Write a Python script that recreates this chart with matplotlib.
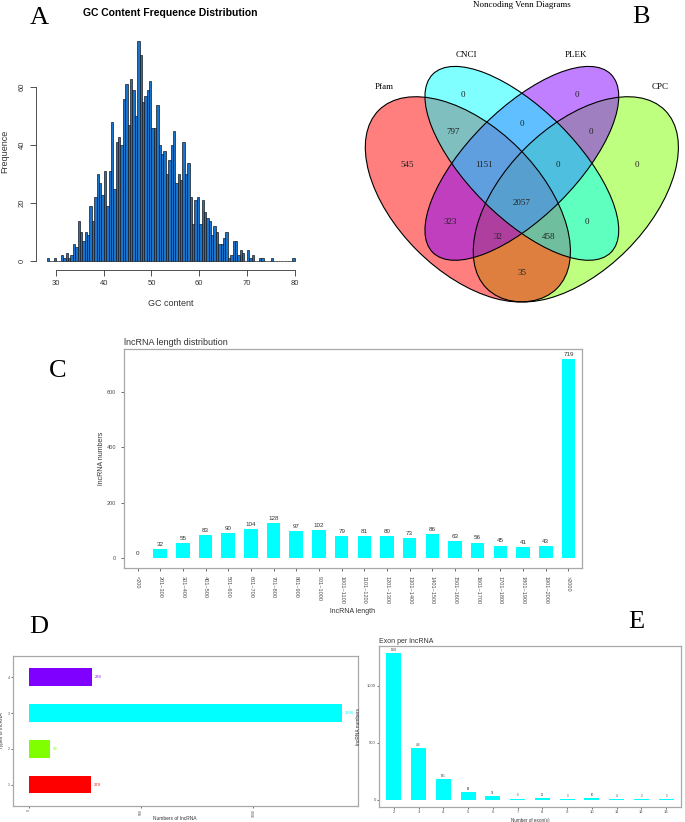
import numpy as np
import matplotlib
matplotlib.use("Agg")
import matplotlib.pyplot as plt
from matplotlib.patches import Ellipse

plt.rcParams['font.family'] = ['Liberation Sans', 'DejaVu Sans']

# ---------------- data ----------------
# A: GC content histogram, bins of 0.5 starting at 28
gc_start, gc_step = 28.0, 0.5
gc_counts = [1, 0, 0, 1, 0, 0, 2, 1, 3, 1,
             2, 6, 5, 14, 10, 7, 10, 9, 19, 14,
             22, 30, 27, 23, 31, 19, 31, 48, 25, 41,
             43, 40, 56, 61, 47, 63, 59, 50, 76, 71,
             55, 57, 59, 62, 46, 46, 54, 40, 37, 38,
             30, 35, 40, 45, 27, 30, 28, 41, 30, 34,
             22, 13, 21, 22, 13, 21, 17, 15, 14, 9,
             12, 10, 6, 6, 8, 10, 1, 2, 7, 7,
             2, 4, 3, 0, 4, 1, 2, 0, 0, 1,
             1, 0, 0, 0, 1, 0, 0, 0, 0, 0,
             0, 0, 0, 1]

# B: Venn diagram
venn_sets = ['Pfam', 'CNCI', 'PLEK', 'CPC']
venn_regions = ['Pfam', 'CNCI', 'PLEK', 'CPC',
                'Pfam&CNCI', 'CNCI&PLEK', 'PLEK&CPC', 'Pfam&PLEK', 'CNCI&CPC', 'Pfam&CPC',
                'Pfam&CNCI&PLEK', 'CNCI&PLEK&CPC', 'Pfam&CNCI&CPC', 'Pfam&PLEK&CPC',
                'all']
venn_counts = [545, 0, 0, 0,
               797, 0, 0, 323, 0, 35,
               1151, 0, 458, 32,
               2057]

# C: length distribution
len_labels = ['<200', '201~300', '301~400', '401~500', '501~600', '601~700', '701~800',
              '801~900', '901~1000', '1001~1100', '1101~1200', '1201~1300', '1301~1400',
              '1401~1500', '1501~1600', '1601~1700', '1701~1800', '1801~1900',
              '1901~2000', '>2000']
len_counts = [0, 32, 55, 83, 90, 104, 128, 97, 102, 79, 81, 80, 73, 86, 63, 56, 45, 41, 43, 719]

# D: types of lncRNA
type_labels = ['1', '2', '3', '4']
type_counts = [279, 96, 1396, 283]

# E: exon per lncRNA
exon_labels = ['2', '3', '4', '5', '6', '7', '8', '9', '10', '11', '12', '13']
exon_counts = [1285, 456, 181, 69, 31, 9, 11, 3, 10, 4, 3, 3]

# ---------------- styles / layout ----------------
rainbow4 = ['#FF0000', '#80FF00', '#00FFFF', '#8000FF']
venn_colors = ['#FF0000', '#00FFFF', '#8000FF', '#80FF00']
venn_z = [2, 4, 3, 1]   # fill order: CPC, Pfam, PLEK, CNCI
# standard 4-set venn ellipse layout (cx, cy, a, b, angle)
venn_shapes = [(0.35, 0.47, 0.35, 0.20, -45), (0.50, 0.57, 0.35, 0.15, -45),
               (0.50, 0.57, 0.35, 0.15, 45), (0.65, 0.47, 0.35, 0.20, 45)]
venn_set_pos = [(0.117, 0.782), (0.347, 0.871), (0.65, 0.871), (0.883, 0.782)]
venn_region_pos = [(0.181, 0.566), (0.336, 0.76), (0.653, 0.76), (0.819, 0.566),
                   (0.308, 0.657), (0.5, 0.679), (0.692, 0.657), (0.30, 0.407),
                   (0.681, 0.407), (0.5, 0.265),
                   (0.394, 0.566), (0.60, 0.566), (0.575, 0.366), (0.433, 0.366),
                   (0.5, 0.46)]

serif = 'Liberation Serif'
gg_border = '#A8A8A8'
gg_text = '#4D4D4D'

fig = plt.figure(figsize=(6.85, 8.22), dpi=100)


def gg_axes(ax):
    for s in ax.spines.values():
        s.set_color(gg_border)
        s.set_linewidth(0.9)
    ax.tick_params(colors='#333333', labelcolor=gg_text, width=0.5, length=2)


# ---- A: histogram ----
axa = fig.add_axes([0.0526, 0.6715, 0.3927, 0.2895])
edges = gc_start + gc_step * np.arange(len(gc_counts))
axa.bar(edges, gc_counts, width=gc_step, align='edge', color='#1874CD',
        edgecolor='#1a1a1a', linewidth=0.5)
axa.set_xlim(25.8, 82.2)
axa.set_ylim(-3.04, 79.04)
axa.spines[['top', 'right']].set_visible(False)
axa.spines['left'].set_bounds(0, 60)
axa.spines['bottom'].set_bounds(30, 80)
for s in ('left', 'bottom'):
    axa.spines[s].set_color('#333333')
    axa.spines[s].set_linewidth(0.6)
axa.set_xticks([30, 40, 50, 60, 70, 80])
axa.set_yticks([0, 20, 40, 60])
axa.tick_params(labelsize=5.5, length=4, width=0.6, color='#333333', labelcolor='#333333')
plt.setp(axa.get_yticklabels(), rotation=90, va='center')
axa.set_xlabel('GC content', fontsize=6.5, color='#333333', labelpad=8)
axa.set_ylabel('Frequence', fontsize=6.5, color='#333333', labelpad=7)
fig.text(170 / 685, 1 - 13 / 822, 'GC Content Frequence Distribution', ha='center',
         va='center', fontsize=7.5, fontweight='bold')

# ---- B: venn ----
axb = fig.add_axes([0.4818, 0.6204, 0.518, 0.3552])
axb.set_xlim(-0.033, 0.953)
axb.set_ylim(0.157, 0.968)
axb.axis('off')
for (cx, cy, a, b, ang), col, z in zip(venn_shapes, venn_colors, venn_z):
    axb.add_patch(Ellipse((cx, cy), 2 * a, 2 * b, angle=ang, facecolor=col,
                          alpha=0.5, edgecolor='none', zorder=z))
for (cx, cy, a, b, ang) in venn_shapes:
    axb.add_patch(Ellipse((cx, cy), 2 * a, 2 * b, angle=ang, fill=False,
                          edgecolor='black', linewidth=0.8, zorder=5))
for name, (px, py) in zip(venn_sets, venn_set_pos):
    axb.text(px, py, name, ha='center', va='center', fontsize=6.5, family=serif)
for v, (px, py) in zip(venn_counts, venn_region_pos):
    axb.text(px, py, str(v), ha='center', va='center', fontsize=6.5, family=serif,
             color='#222222', zorder=6)
fig.text(522 / 685, 1 - 5 / 822, 'Noncoding Venn Diagrams', ha='center', va='center',
         fontsize=6.5, family=serif)

# ---- C: length distribution ----
axc = fig.add_axes([0.181, 0.309, 0.6686, 0.2664])
xc = np.arange(len(len_labels))
axc.bar(xc, len_counts, width=0.6, color='#00FFFF')
for xi, v in zip(xc, len_counts):
    axc.annotate(str(v), (xi, v), xytext=(0, 1.5), textcoords='offset points',
                 ha='center', va='bottom', fontsize=4.5, color='#333333')
axc.set_xlim(-0.6, len(xc) - 0.4)
axc.set_ylim(-36, 755)
axc.set_xticks(xc)
axc.set_xticklabels(len_labels, rotation=270, fontsize=4)
axc.set_yticks([0, 200, 400, 600])
gg_axes(axc)
axc.tick_params(labelsize=4)
axc.set_xlabel('lncRNA length', fontsize=5, color='#333333', labelpad=3)
axc.set_ylabel('lncRNA numbers', fontsize=5, color='#333333')
axc.yaxis.set_label_coords((105 - 124) / 458, 0.5)
axc.set_title('lncRNA length distribution', fontsize=6.5, loc='left', pad=3,
              color='#333333')

# ---- D: types of lncRNA ----
axd = fig.add_axes([0.019, 0.0195, 0.5036, 0.1825])
yd = np.arange(1, len(type_labels) + 1)
axd.barh(yd, type_counts, height=0.5, color=rainbow4)
for yi, v, col in zip(yd, type_counts, rainbow4):
    axd.annotate(str(v), (v, yi), xytext=(2, 0), textcoords='offset points',
                 ha='left', va='center', fontsize=3, color=col)
axd.set_ylim(0.4, 4.6)
axd.set_xlim(-70, 1466)
axd.set_yticks(yd)
axd.set_yticklabels(type_labels)
axd.set_xticks([0, 500, 1000])
gg_axes(axd)
axd.tick_params(labelsize=2.5, length=1.5, pad=1)
plt.setp(axd.get_xticklabels(), rotation=90)
axd.set_xlabel('Numbers of lncRNA', fontsize=3.5, color='#333333')
axd.set_ylabel('Types of lncRNA', fontsize=3.5, color='#333333')
axd.xaxis.set_label_coords((175 - 13) / 345, (806 - 816) / 150)
axd.yaxis.set_label_coords((4 - 13) / 345, 0.5)

# ---- E: exon per lncRNA ----
axe = fig.add_axes([0.5533, 1 - 807 / 822, 0.4409, 161 / 822])
xe = np.arange(len(exon_labels))
axe.bar(xe, exon_counts, width=0.6, color='#00FFFF')
for xi, v in zip(xe, exon_counts):
    axe.annotate(str(v), (xi, v), xytext=(0, 0.8), textcoords='offset points',
                 ha='center', va='bottom', fontsize=2, color='#333333')
axe.set_xlim(-0.6, len(xe) - 0.4)
axe.set_ylim(-65, 1350)
axe.set_xticks(xe)
axe.set_xticklabels(exon_labels)
axe.set_yticks([0, 500, 1000])
gg_axes(axe)
axe.tick_params(labelsize=3, length=1.5, pad=0.8)
axe.set_xlabel('Number of exon(s)', fontsize=3.3, color='#333333')
axe.set_ylabel('lncRNA numbers', fontsize=3.5, color='#333333')
axe.xaxis.set_label_coords(0.5, (807 - 817.5) / 161)
axe.yaxis.set_label_coords((361 - 379) / 302, 0.5)
axe.set_title('Exon per lncRNA', fontsize=5, loc='left', pad=2, color='#333333')

# ---- panel letters ----
for letter, (px, py) in zip('ABCDE', [(39, 18), (641, 17), (58, 371), (39, 627), (636, 622)]):
    fig.text(px / 685, 1 - py / 822, letter, ha='center', va='center', fontsize=19,
             family=serif)

fig.savefig('out.png', dpi=100)
